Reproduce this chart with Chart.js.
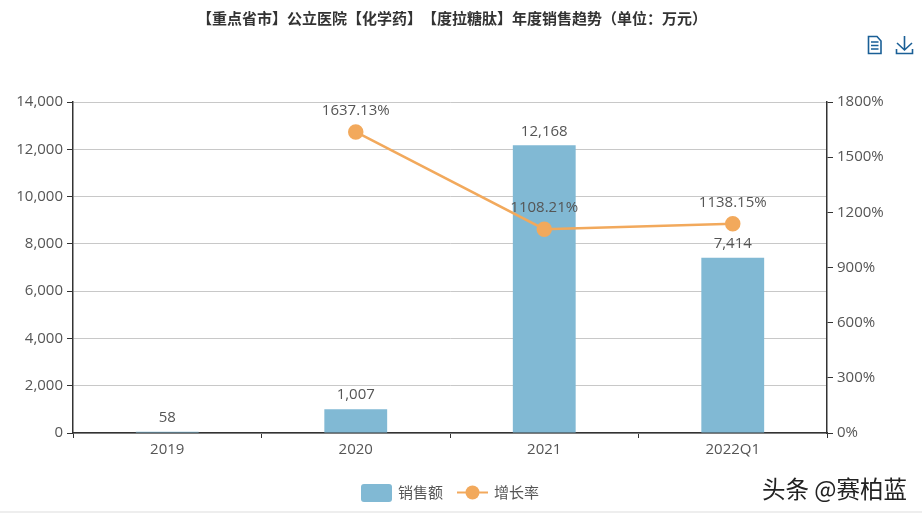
<!DOCTYPE html>
<html>
<head>
<meta charset="utf-8">
<style>
    html, body { margin: 0; padding: 0; background: #fff; overflow: hidden; }
    #wrap { position: relative; width: 922px; height: 516px; }
    #chart { display: block; }
</style>
<script src="https://cdn.jsdelivr.net/npm/chart.js@4"></script>
</head>
<body>
<div id="wrap"><canvas id="chart" width="922" height="516"></canvas></div>
<script>
// 】【 相鄰時瀏覽器會壓縮標點，所以標題分兩段畫
const titleParts = ['【重点省市】公立医院【化学药】', '【度拉糖肽】年度销售趋势（单位：万元）'];
const watermark = '头条 @赛柏蓝';
const categories = ['2019', '2020', '2021', '2022Q1'];
const salesName = '销售额';
const growthName = '增长率';
const salesValues = [58, 1007, 12168, 7414];
const growthValues = [null, 1637.13, 1108.21, 1138.15];

const BAR_COLOR = '#81b9d4';
const LINE_COLOR = '#f2a95c';
const TEXT_COLOR = '#555';
const AXIS_COLOR = '#333';
const ICON_COLOR = '#1a5f96';
const LATIN_FONT = '"Open Sans", "Noto Sans CJK SC", sans-serif';
const CJK_FONT = '"Noto Sans CJK SC", sans-serif';

// 標題、數值標籤、圖例、圖示都畫在這裡
const decorPlugin = {
    id: 'decor',
    afterDatasetsDraw(chart) {
        const ctx = chart.ctx;
        ctx.save();

        // title
        ctx.font = 'bold 15px ' + CJK_FONT;
        ctx.fillStyle = '#333';
        ctx.textAlign = 'left';
        ctx.textBaseline = 'middle';
        ctx.fillText(titleParts[0], 197, 18);
        ctx.fillText(titleParts[1], 422, 18);

        // data labels
        ctx.textAlign = 'center';
        ctx.font = '15px ' + LATIN_FONT;
        ctx.fillStyle = TEXT_COLOR;
        chart.getDatasetMeta(0).data.forEach((bar, i) => {
            ctx.fillText(salesValues[i].toLocaleString('en-US'), bar.x, bar.y - 14);
        });
        chart.getDatasetMeta(1).data.forEach((pt, i) => {
            if (growthValues[i] === null) return;
            ctx.fillText(growthValues[i].toFixed(2) + '%', pt.x, pt.y - 21);
        });

        // legend
        ctx.fillStyle = BAR_COLOR;
        ctx.beginPath();
        ctx.roundRect(361, 484, 31, 18, 3);
        ctx.fill();
        ctx.strokeStyle = LINE_COLOR;
        ctx.lineWidth = 2;
        ctx.beginPath();
        ctx.moveTo(457, 492.5);
        ctx.lineTo(488, 492.5);
        ctx.stroke();
        ctx.fillStyle = LINE_COLOR;
        ctx.beginPath();
        ctx.arc(472.5, 492.5, 7, 0, 2 * Math.PI);
        ctx.fill();
        ctx.font = '15px ' + CJK_FONT;
        ctx.fillStyle = TEXT_COLOR;
        ctx.textAlign = 'left';
        ctx.fillText(salesName, 398, 492);
        ctx.fillText(growthName, 494, 492);

        // watermark
        ctx.font = '23.5px ' + CJK_FONT;
        ctx.fillStyle = '#222';
        ctx.fillText(watermark, 762, 489);

        // document icon
        ctx.strokeStyle = ICON_COLOR;
        ctx.lineWidth = 1.6;
        ctx.beginPath();
        ctx.moveTo(868.5, 36.5);
        ctx.lineTo(877, 36.5);
        ctx.lineTo(881, 41);
        ctx.lineTo(881, 53.5);
        ctx.lineTo(868.5, 53.5);
        ctx.closePath();
        ctx.moveTo(871, 42);
        ctx.lineTo(878.5, 42);
        ctx.moveTo(871, 45.5);
        ctx.lineTo(878.5, 45.5);
        ctx.moveTo(871, 49);
        ctx.lineTo(878.5, 49);
        ctx.stroke();

        // download icon
        ctx.beginPath();
        ctx.moveTo(904.5, 36);
        ctx.lineTo(904.5, 50);
        ctx.moveTo(897, 43);
        ctx.lineTo(904.5, 50);
        ctx.lineTo(912, 43);
        ctx.moveTo(896.5, 49);
        ctx.lineTo(896.5, 53.5);
        ctx.lineTo(912.5, 53.5);
        ctx.lineTo(912.5, 49);
        ctx.stroke();

        // bottom strip
        ctx.fillStyle = '#eee';
        ctx.fillRect(0, 511, 922, 2);

        ctx.restore();
    }
};

new Chart(document.getElementById('chart').getContext('2d'), {
    type: 'bar',
    plugins: [decorPlugin],
    data: {
        labels: categories,
        datasets: [{
            type: 'bar',
            label: salesName,
            data: salesValues,
            backgroundColor: BAR_COLOR,
            categoryPercentage: 1 / 3,
            barPercentage: 1,
            yAxisID: 'y',
            order: 2
        }, {
            type: 'line',
            label: growthName,
            data: growthValues,
            borderColor: LINE_COLOR,
            backgroundColor: LINE_COLOR,
            borderWidth: 2.5,
            pointRadius: 6.5,
            tension: 0,
            spanGaps: false,
            yAxisID: 'y1',
            order: 1
        }]
    },
    options: {
        responsive: false,
        animation: false,
        layout: { padding: { top: 102, bottom: 53 } },
        plugins: {
            legend: { display: false },
            title: { display: false },
            tooltip: { enabled: false }
        },
        scales: {
            x: {
                offset: true,
                afterFit: (s) => { s.height = 30; },
                grid: { display: true, drawOnChartArea: false, tickColor: AXIS_COLOR, tickLength: 5 },
                border: { color: AXIS_COLOR, width: 1.5 },
                ticks: { color: TEXT_COLOR, font: { size: 15, family: LATIN_FONT }, padding: 3, maxRotation: 0 }
            },
            y: {
                position: 'left',
                min: 0,
                max: 14000,
                afterFit: (s) => { s.width = 73; },
                grid: { color: '#c8c8c8', tickColor: AXIS_COLOR, tickLength: 6 },
                border: { color: AXIS_COLOR, width: 1.5 },
                ticks: {
                    stepSize: 2000,
                    color: TEXT_COLOR,
                    font: { size: 15, family: LATIN_FONT },
                    padding: 4,
                    callback: (v) => v.toLocaleString('en-US')
                }
            },
            y1: {
                position: 'right',
                min: 0,
                max: 1800,
                afterFit: (s) => { s.width = 95; },
                grid: { drawOnChartArea: false, tickColor: AXIS_COLOR, tickLength: 6 },
                border: { color: AXIS_COLOR, width: 1.5 },
                ticks: {
                    stepSize: 300,
                    color: TEXT_COLOR,
                    font: { size: 15, family: LATIN_FONT },
                    padding: 4,
                    callback: (v) => v + '%'
                }
            }
        }
    }
});
</script>
</body>
</html>
